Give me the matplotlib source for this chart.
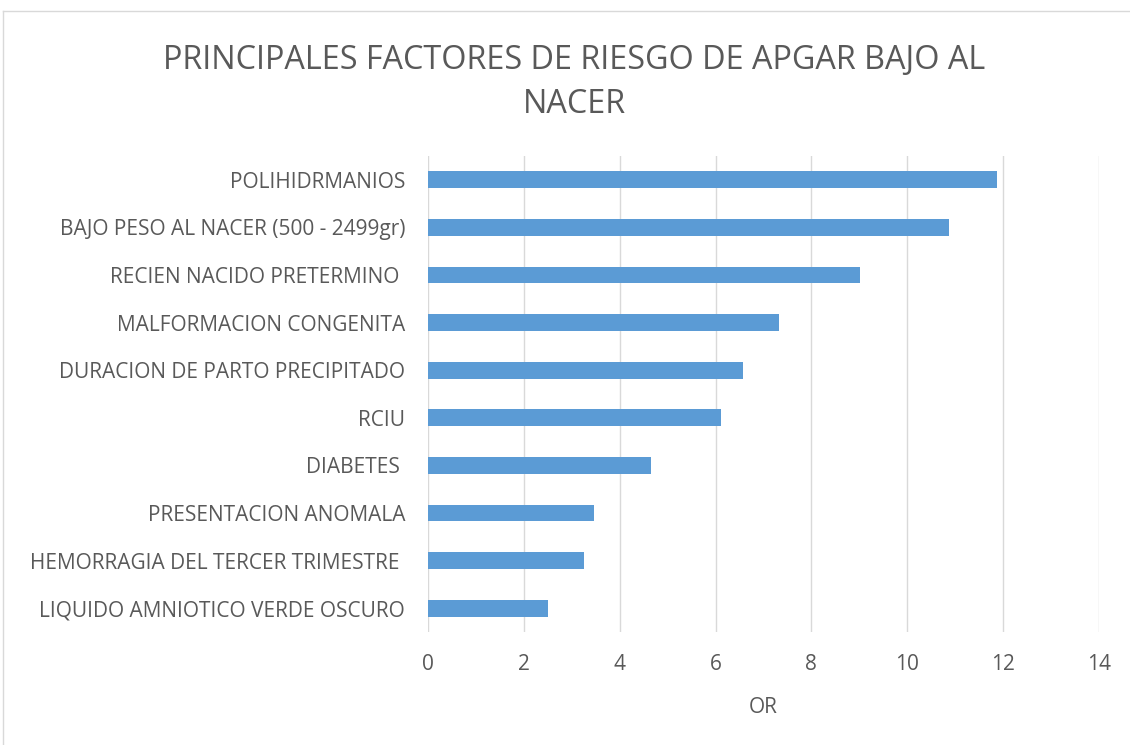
import matplotlib
matplotlib.use("Agg")
import matplotlib.pyplot as plt
from matplotlib.lines import Line2D

categories = [
    "POLIHIDRMANIOS",
    "BAJO PESO AL NACER (500 - 2499gr)",
    "RECIEN NACIDO PRETERMINO ",
    "MALFORMACION CONGENITA",
    "DURACION DE PARTO PRECIPITADO",
    "RCIU",
    "DIABETES ",
    "PRESENTACION ANOMALA",
    "HEMORRAGIA DEL TERCER TRIMESTRE ",
    "LIQUIDO AMNIOTICO VERDE OSCURO",
]
values = [11.88, 10.86, 9.01, 7.32, 6.57, 6.11, 4.66, 3.47, 3.26, 2.50]
xticks = [0, 2, 4, 6, 8, 10, 12, 14]
title = "PRINCIPALES FACTORES DE RIESGO DE APGAR BAJO AL\nNACER"
xlabel = "OR"

plt.rcParams['font.family'] = ['Open Sans', 'DejaVu Sans']
gray = "#595959"

fig = plt.figure(figsize=(11.3, 7.45), dpi=100)
ax = fig.add_axes([428/1130, 113/745, 671/1130, 476/745])

n = len(categories)
ypos = list(range(n))
ax.barh(ypos, values, height=0.355, color="#5B9BD5", zorder=3)
ax.set_ylim(n - 0.5, -0.5)
ax.set_xlim(0, 14)
ax.set_xticks(xticks)
ax.set_xticklabels([str(t) for t in xticks])
ax.set_yticks(ypos)
ax.set_yticklabels(categories)
ax.grid(axis="x", color="#D9D9D9", linewidth=1.0, zorder=0)
for s in ax.spines.values():
    s.set_visible(False)
ax.tick_params(axis="both", length=0, colors=gray, labelsize=15)
ax.tick_params(axis="y", pad=16.5)
ax.tick_params(axis="x", pad=16)
ax.set_xlabel(xlabel, color=gray, fontsize=15, labelpad=15.5)

fig.text(574/1130, 1 - 82.5/745, title, ha="center", va="center",
         fontsize=23.3, color=gray, linespacing=1.45)

# outer chart border (left and top visible)
fig.add_artist(Line2D([3/1130, 3/1130], [0, 1 - 11/745], transform=fig.transFigure,
                      color="#D9D9D9", linewidth=1))
fig.add_artist(Line2D([3/1130, 1], [1 - 11/745, 1 - 11/745], transform=fig.transFigure,
                      color="#D9D9D9", linewidth=1))

fig.savefig("out.png", dpi=100, facecolor="white")
